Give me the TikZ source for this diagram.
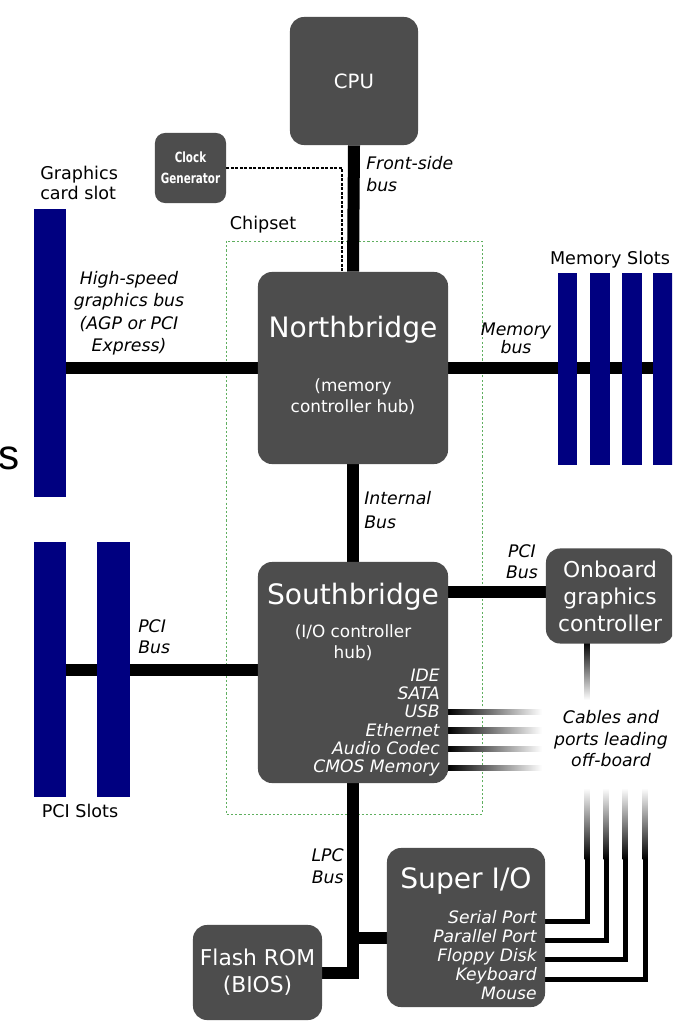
\documentclass[tikz,border=0pt]{standalone}
\usepackage{fontspec}
\setmainfont{DejaVu Sans}
\newfontfamily\condfont[FakeStretch=0.82]{DejaVu Sans Condensed}
\newfontfamily\cutfont{Liberation Sans}
\usetikzlibrary{backgrounds}
\definecolor{chipgray}{RGB}{77,77,77}
\definecolor{slotblue}{RGB}{0,0,128}
\definecolor{chipsetgreen}{RGB}{95,175,95}
\tikzset{
  chip/.style={fill=chipgray, draw=none, rounded corners=0.35cm, inner sep=0pt, text=white, align=center},
  slot/.style={fill=slotblue, draw=none, inner sep=0pt},
  bus/.style={line width=0.3cm},
  cable/.style={line width=0.125cm, line join=miter},
  buslabel/.style={font=\fontsize{12.3}{16}\selectfont\itshape, align=center, inner sep=0pt},
  plainlabel/.style={font=\fontsize{12.5}{14.5}\selectfont, inner sep=0pt},
  chiptitle/.style={font=\fontsize{20}{24}\selectfont, text=white, inner sep=0pt},
  chipsub/.style={font=\fontsize{12}{15}\selectfont, text=white, align=center, inner sep=0pt},
  portlist/.style={font=\fontsize{12.2}{13}\selectfont\itshape, text=white, align=right, inner sep=0pt},
}
\begin{document}
\begin{tikzpicture}[x=0.025cm,y=-0.025cm]
\clip (0,0) rectangle (672,1024);
\begin{scope}[on background layer]
\fill[white] (0,0) rectangle (672,1024);
\draw[chipsetgreen,thin,dash pattern=on 1.5pt off 1.5pt] (226,241) rectangle (482,814);
\end{scope}

\node[chip,minimum width=3.2cm,minimum height=3.2cm,font=\fontsize{14}{16}\selectfont] (cpu) at (354,81) {CPU};
\node[chip,rounded corners=0.25cm,minimum width=1.775cm,minimum height=1.75cm,font=\condfont\bfseries\fontsize{10}{15}\selectfont] (clk) at (190.5,168) {Clock\\Generator};
\node[chip,minimum width=4.75cm,minimum height=4.8cm] (nb) at (353,368) {};
\node[chip,minimum width=4.75cm,minimum height=5.525cm] (sb) at (353,672.5) {};
\node[chip,minimum width=3.2cm,minimum height=2.375cm,font=\fontsize{15.5}{19.2}\selectfont] (ogc) at (610,596) {Onboard\\graphics\\controller};
\node[chip,minimum width=3.95cm,minimum height=3.975cm] (sio) at (466,927.5) {};
\node[chip,minimum width=3.225cm,minimum height=2.375cm,font=\fontsize{15.5}{19.2}\selectfont] (rom) at (257.5,972.5) {Flash ROM\\(BIOS)};

\node[slot,minimum width=0.8cm,minimum height=7.2cm] (gslot) at (50,353) {};
\foreach \sx [count=\i] in {567.5,600,632,663}
  \node[slot,minimum width=0.48cm,minimum height=4.8cm] (ms\i) at (\sx,369) {};
\node[slot,minimum width=0.8cm,minimum height=6.375cm] (ps1) at (50,669.5) {};
\node[slot,minimum width=0.8cm,minimum height=6.375cm] (ps2) at (113.5,669.5) {};

\node[chiptitle] (nbtitle) at (353,330) {Northbridge};
\node[chipsub] (nbsub) at (353,397) {(memory\\controller hub)};
\node[chiptitle] (sbtitle) at (353,597) {Southbridge};
\node[chipsub] (sbsub) at (353,643) {(I/O controller\\hub)};
\node[portlist,anchor=east] (sbports) at (440,722.5) {IDE\\SATA\\USB\\Ethernet\\Audio Codec\\CMOS Memory};
\node[chiptitle] (siotitle) at (466,881) {Super I/O};
\node[portlist,anchor=east,font=\fontsize{12.2}{13.5}\selectfont\itshape] (sioports) at (537,955) {Serial Port\\Parallel Port\\Floppy Disk\\Keyboard\\Mouse};

\begin{scope}[on background layer]
\draw[bus] (cpu.south) -- (nb.north);
\draw[bus] (nb.south) -- (sb.north);
\draw[bus] (nb.west) -- (nb.west -| gslot.east);
\draw[bus] (nb.east) -- (672,368);
\draw[bus] (sb.west |- ps1.east) -- (ps1.east);
\draw[bus] ([yshift=0.1cm]ogc.west) -- ([yshift=0.1cm]ogc.west -| sb.east);
\draw[bus] (sb.south) |- (rom.east);
\draw[bus] ([yshift=-0.25cm]sio.west) -- ([yshift=-0.25cm]sio.west -| sb.south);
\draw[thick,dash pattern=on 2pt off 1.2pt] (clk.east) -| ([xshift=-0.275cm]nb.north);
\foreach \cy in {712,730.5,749,768}
  \shade[left color=black,middle color=black!85,right color=white] (448,\cy-2.6) rectangle (542,\cy+2.6);
\shade[top color=black,bottom color=white] (584.5,642) rectangle (589.5,700);
\foreach \cx/\cy in {587/921,606/940,625/959,645/979}{
  \draw[cable] (sio.east |- 0,\cy) -| (\cx,858);
  \shade[top color=white,bottom color=black] (\cx-2.5,788) rectangle (\cx+2.5,859);
}
\end{scope}

\node[buslabel,align=left,anchor=west] (fsb) at (366,174) {Front-side\\bus};
\node[plainlabel,align=left,anchor=west] (gslotlbl) at (40,183) {Graphics\\card slot};
\node[plainlabel] (chipsetlbl) at (263,225) {Chipset};
\node[buslabel] (agp) at (129,313) {High-speed\\graphics bus\\(AGP or PCI\\Express)};
\node[buslabel,font=\fontsize{12.3}{12.8}\selectfont\itshape] (membus) at (516,338) {Memory\\bus};
\node[plainlabel] (mslotlbl) at (610,260) {Memory Slots};
\node[buslabel,font=\fontsize{12.3}{17}\selectfont\itshape,align=left,anchor=west] (intbus) at (364,510) {Internal\\Bus};
\node[buslabel,font=\fontsize{12.3}{15}\selectfont\itshape,align=left,anchor=west] (pcibus) at (138,637) {PCI\\Bus};
\node[buslabel,font=\fontsize{12.3}{15}\selectfont\itshape] (pcibus2) at (522,562) {PCI\\Bus};
\node[plainlabel] (pslotlbl) at (80,811) {PCI Slots};
\node[buslabel,font=\fontsize{12.3}{15.3}\selectfont\itshape] (offboard) at (611,739) {Cables and\\ports leading\\off-board};
\node[buslabel,align=right,anchor=east] (lpc) at (344,866) {LPC\\Bus};
\node[inner sep=0pt,font=\cutfont\fontsize{30}{30}\selectfont] (cut) at (9.5,458) {s};
\end{tikzpicture}
\end{document}
